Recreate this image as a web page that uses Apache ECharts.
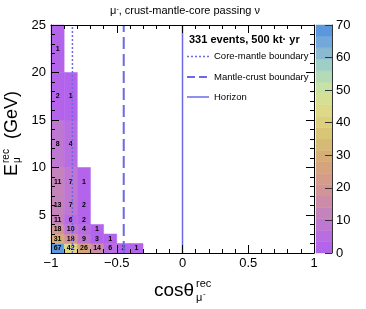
<!DOCTYPE html>
<html>
<head>
<meta charset="utf-8">
<script src="https://cdn.jsdelivr.net/npm/echarts@6/dist/echarts.min.js"></script>
<style>
html,body{margin:0;padding:0;background:#fff;}
#c{width:366px;height:309px;}
</style>
</head>
<body>
<div id="c"></div>
<script>
// ---- data ----
const cosEdges = [-1.0, -0.9, -0.8, -0.7, -0.6, -0.5, -0.4, -0.3];
const energyEdges = [1, 2, 3, 4, 5, 7, 10, 15, 20, 25];
const countsE1to2 = [67, 42, 26, 14, 6, 2, 1];
const countsE2to3 = [31, 18, 9, 3, 1];
const countsE3to4 = [18, 10, 4, 1];
const countsE4to5 = [11, 6, 2];
const countsE5to7 = [13, 7, 2];
const countsE7to10 = [11, 7, 1];
const countsE10to15 = [8, 4];
const countsE15to20 = [2, 1];
const countsE20to25 = [1];
const xTickLabels = [-1, -0.5, 0, 0.5, 1];
const yTickLabels = [5, 10, 15, 20, 25];
const zTickLabels = [0, 10, 20, 30, 40, 50, 60, 70];
const coreMantle = -0.837;
const mantleCrust = -0.447;
const horizon = 0;
const zMax = 70;
const nContours = 20;

const rows = [countsE1to2, countsE2to3, countsE3to4, countsE4to5, countsE5to7,
              countsE7to10, countsE10to15, countsE15to20, countsE20to25];
const step = zMax / nContours;
function bandMid(v) { let k = Math.min(nContours - 1, Math.floor(v / step)); return (k + 0.5) * step; }

const cellData = [];
rows.forEach((row, r) => {
  row.forEach((v, c) => {
    cellData.push([cosEdges[c], cosEdges[c + 1], energyEdges[r], energyEdges[r + 1], bandMid(v), v]);
  });
});
const barData = [];
for (let k = 0; k < nContours; k++) {
  barData.push([0, 1, k * step, (k + 1) * step, (k + 0.5) * step, 0]);
}

const FONT = '"Liberation Sans", Arial, Helvetica, sans-serif';
const LINE_COLOR = '#6a6ae6';

function cellRender(showText) {
  return function (params, api) {
    const p0 = api.coord([api.value(0), api.value(2)]);
    const p1 = api.coord([api.value(1), api.value(3)]);
    const x = p0[0], y = p1[1], w = p1[0] - p0[0], h = p0[1] - p1[1];
    const col = api.visual('color');
    const children = [{
      type: 'rect', shape: { x: x, y: y, width: w, height: h },
      style: { fill: col, stroke: col, lineWidth: 0.5 }
    }];
    if (showText) {
      children.push({
        type: 'text',
        style: {
          text: String(api.value(5)), x: x + w / 2, y: y + h / 2,
          align: 'center', verticalAlign: 'middle', fill: '#000',
          font: 'bold 7px ' + FONT
        }
      });
    }
    return { type: 'group', children: children };
  };
}

function vline(name, xv, type, width) {
  return {
    type: 'line', name: name, xAxisIndex: 0, yAxisIndex: 0,
    data: [[xv, energyEdges[0]], [xv, energyEdges[energyEdges.length - 1]]],
    symbol: 'none', silent: true, z: 5,
    lineStyle: { color: LINE_COLOR, width: width, type: type }
  };
}

const axisLineBlack = { show: true, onZero: false, lineStyle: { color: '#000', width: 1 } };
const noLine = { show: false, onZero: false };
const labelStyle = { color: '#000', fontSize: 13, fontFamily: FONT };

const option = {
  animation: false,
  backgroundColor: '#fff',
  grid: [
    { left: 51, width: 263, top: 25, height: 228, containLabel: false },
    { left: 316, width: 16, top: 25, height: 228, containLabel: false }
  ],
  xAxis: [
    { type: 'value', gridIndex: 0, min: -1, max: 1, interval: 0.5, position: 'bottom', z: 10,
      axisLine: axisLineBlack, splitLine: { show: false },
      axisTick: { inside: true, length: 8, lineStyle: { color: '#000' } },
      minorTick: { show: true, splitNumber: 5, length: 4, lineStyle: { color: '#000' } },
      axisLabel: Object.assign({ margin: 4, formatter: v => String(v).replace('-', '\u2212') }, labelStyle) },
    { type: 'value', gridIndex: 0, min: -1, max: 1, interval: 0.5, position: 'top', z: 10,
      axisLine: axisLineBlack, splitLine: { show: false },
      axisTick: { inside: true, length: 8, lineStyle: { color: '#000' } },
      minorTick: { show: true, splitNumber: 5, length: 4, lineStyle: { color: '#000' } },
      axisLabel: { show: false } },
    { type: 'value', gridIndex: 1, min: 0, max: 1, show: false }
  ],
  yAxis: [
    { type: 'value', gridIndex: 0, min: 1, max: 25, position: 'left', z: 10,
      axisLine: axisLineBlack, splitLine: { show: false },
      axisTick: { inside: true, length: 8, customValues: yTickLabels, lineStyle: { color: '#000' } },
      axisLabel: Object.assign({ margin: 5, customValues: yTickLabels }, labelStyle) },
    { type: 'value', gridIndex: 0, min: 1, max: 25, interval: 1, position: 'left', z: 10,
      axisLine: noLine, splitLine: { show: false },
      axisTick: { inside: true, length: 4, lineStyle: { color: '#000' } },
      axisLabel: { show: false } },
    { type: 'value', gridIndex: 0, min: 1, max: 25, position: 'right', z: 10,
      axisLine: axisLineBlack, splitLine: { show: false },
      axisTick: { inside: true, length: 8, customValues: yTickLabels, lineStyle: { color: '#000' } },
      axisLabel: { show: false, customValues: yTickLabels } },
    { type: 'value', gridIndex: 0, min: 1, max: 25, interval: 1, position: 'right', z: 10,
      axisLine: noLine, splitLine: { show: false },
      axisTick: { inside: true, length: 4, lineStyle: { color: '#000' } },
      axisLabel: { show: false } },
    { type: 'value', gridIndex: 1, min: 0, max: zMax, interval: 10, position: 'right', z: 10,
      axisLine: { show: true, onZero: false, lineStyle: { color: '#333', width: 1 } }, splitLine: { show: false },
      axisTick: { inside: true, length: 7, lineStyle: { color: '#333' } },
      axisLabel: Object.assign({ margin: 4 }, labelStyle) }
  ],
  visualMap: {
    type: 'continuous', show: false, min: 0, max: zMax, dimension: 4, seriesIndex: [0, 1],
    inRange: { color: ['#b05ff0', '#bb72dc', '#c888b0', '#d69890', '#d4a878', '#d6bf72',
                       '#dfd580', '#d2e49c', '#a8d8c0', '#80b0d8', '#4f8ede'] }
  },
  series: [
    { type: 'custom', xAxisIndex: 0, yAxisIndex: 0, data: cellData, renderItem: cellRender(true),
      encode: { x: [0, 1], y: [2, 3] }, z: 2, silent: true },
    { type: 'custom', xAxisIndex: 2, yAxisIndex: 4, data: barData, renderItem: cellRender(false),
      encode: { x: [0, 1], y: [2, 3] }, z: 2, silent: true },
    vline('Core-mantle boundary', coreMantle, [2, 2], 1.5),
    vline('Mantle-crust boundary', mantleCrust, [12, 5], 2),
    vline('Horizon', horizon, 'solid', 1.5)
  ],
  graphic: [
    // title
    { type: 'text', x: 185, y: 11, style: {
        text: '{a|μ}{s|-}{a|, crust-mantle-core passing ν}',
        align: 'center', verticalAlign: 'middle', fill: '#000',
        rich: {
          a: { fontSize: 11, fontFamily: FONT, fill: '#000' },
          s: { fontSize: 7, fontFamily: FONT, fill: '#000', verticalAlign: 'top' }
        } } },
    // legend
    { type: 'text', x: 189, y: 40, style: { text: '331 events, 500 kt\u00b7 yr', font: 'bold 11px ' + FONT, fill: '#000', verticalAlign: 'middle' } },
    { type: 'line', shape: { x1: 187, y1: 56.5, x2: 209, y2: 56.5 }, style: { stroke: LINE_COLOR, lineWidth: 1.5, lineDash: [2, 2] } },
    { type: 'text', x: 214, y: 56.5, style: { text: 'Core-mantle boundary', font: '9.5px ' + FONT, fill: '#000', verticalAlign: 'middle' } },
    { type: 'line', shape: { x1: 187, y1: 77, x2: 209, y2: 77 }, style: { stroke: LINE_COLOR, lineWidth: 2, lineDash: [8, 4] } },
    { type: 'text', x: 214, y: 77, style: { text: 'Mantle-crust boundary', font: '9.5px ' + FONT, fill: '#000', verticalAlign: 'middle' } },
    { type: 'line', shape: { x1: 187, y1: 97, x2: 209, y2: 97 }, style: { stroke: LINE_COLOR, lineWidth: 1.5 } },
    { type: 'text', x: 214, y: 97, style: { text: 'Horizon', font: '9.5px ' + FONT, fill: '#000', verticalAlign: 'middle' } },
    // x axis title
    { type: 'text', x: 154, y: 291, style: { text: 'cosθ', font: '19px ' + FONT, fill: '#000', verticalAlign: 'middle' } },
    { type: 'text', x: 196, y: 284, style: { text: 'rec', font: '11px ' + FONT, fill: '#000', verticalAlign: 'middle' } },
    { type: 'text', x: 196, y: 298, style: { text: 'μ', font: '11px ' + FONT, fill: '#000', verticalAlign: 'middle' } },
    { type: 'text', x: 203, y: 294, style: { text: '-', font: '8px ' + FONT, fill: '#000', verticalAlign: 'middle' } },
    // y axis title (rotated)
    { type: 'group', x: 12, y: 176, rotation: Math.PI / 2, children: [
      { type: 'text', x: 0, y: 0, style: { text: 'E', font: '18px ' + FONT, fill: '#000', verticalAlign: 'middle' } },
      { type: 'text', x: 13, y: -6, style: { text: 'rec', font: '10px ' + FONT, fill: '#000', verticalAlign: 'middle' } },
      { type: 'text', x: 13, y: 5, style: { text: 'μ', font: '10px ' + FONT, fill: '#000', verticalAlign: 'middle' } },
      { type: 'text', x: 37, y: 0, style: { text: '(GeV)', font: '18px ' + FONT, fill: '#000', verticalAlign: 'middle' } }
    ]}
  ]
};

const chart = echarts.init(document.getElementById('c'), null, { renderer: 'canvas' });
chart.setOption(option);
</script>
</body>
</html>
